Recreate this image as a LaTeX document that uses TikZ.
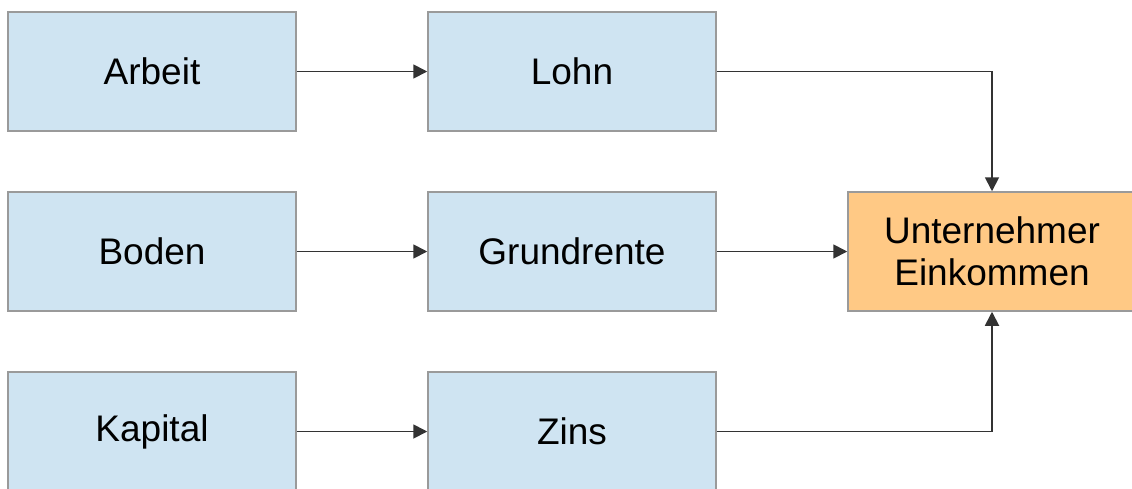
\documentclass[tikz,border=0pt]{standalone}
\usepackage{fontspec}
\setmainfont{Liberation Sans}
\usetikzlibrary{arrows.meta}
\definecolor{boxblue}{HTML}{CFE4F2}
\definecolor{boxorange}{HTML}{FFC985}
\definecolor{boxborder}{HTML}{9A9A9A}
\definecolor{linecol}{HTML}{333333}
\tikzset{
  box/.style={draw=boxborder, line width=1.5pt, fill=boxblue, minimum width=288pt, minimum height=119pt, inner sep=0pt, font=\fontsize{37}{42}\selectfont, align=center, text=black},
  target/.style={box, fill=boxorange},
  conn/.style={draw=linecol, line width=1.8pt, -{Triangle[width=14pt,length=14pt]}}
}
\begin{document}
\begin{tikzpicture}[x=1pt,y=-1pt]
\useasboundingbox (0,0) rectangle (1132,488);
\clip (0,0) rectangle (1132,488);
\node[box] (arbeit) at (152,71.5) {Arbeit};
\node[box] (lohn) at (572,71.5) {Lohn};
\node[box] (boden) at (152,251.5) {Boden};
\node[box] (grund) at (572,251.5) {Grundrente};
\node[box] (kapital) at (152,431.5) {Kapital};
\node[box] (zins) at (572,431.5) {Zins};
\node[target] (unter) at (992,251.5) {Unternehmer\\Einkommen};
\draw[conn] (arbeit) -- (lohn);
\draw[conn] (boden) -- (grund);
\draw[conn] (kapital) -- (zins);
\draw[conn] (grund) -- (unter);
\draw[conn] (lohn.east) -| (unter.north);
\draw[conn] (zins.east) -| (unter.south);
\end{tikzpicture}
\end{document}
